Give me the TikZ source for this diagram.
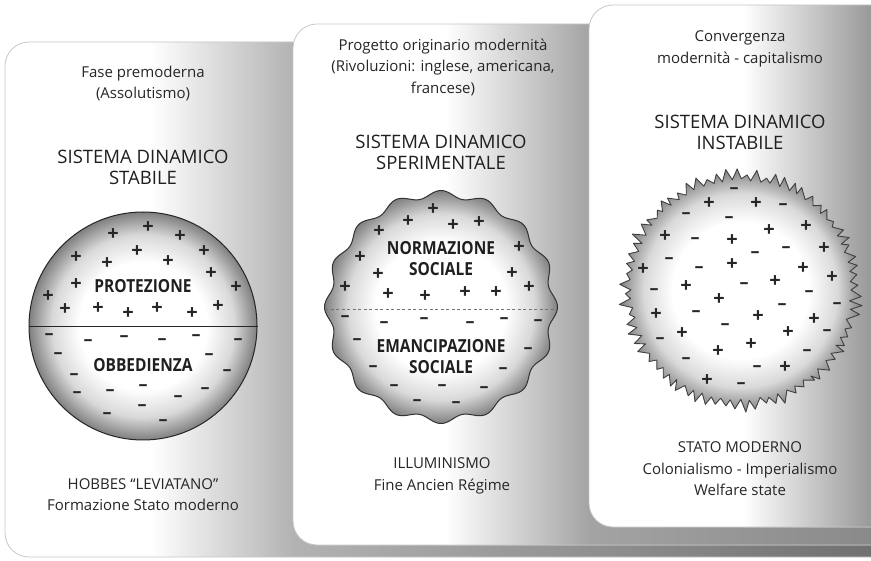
\documentclass[tikz,border=0pt]{standalone}
\usepackage{fontspec}
\setmainfont{Open Sans}
\newfontfamily\lblfont[FakeStretch=0.86]{Open Sans}
\pgfdeclareradialshading{sphere}{\pgfpoint{0bp}{0bp}}{color(0bp)=(white); color(14bp)=(white); color(20bp)=(black!15); color(25bp)=(black!50); color(50bp)=(black!50)}
\begin{document}
\begin{tikzpicture}[x=1pt,y=-1pt,
  paneledge/.style={draw=black!22, line width=0.8pt},
  txt/.style={font=\fontsize{15}{21.5}\selectfont, align=center, text=black!85},
  ttl/.style={font=\fontsize{18.5}{21}\selectfont, align=center, text=black!88},
  lbl/.style={font=\lblfont\fontsize{18}{21}\selectfont\bfseries, align=center, text=black!88},
  sgnp/.style={font=\fontsize{20}{20}\selectfont\bfseries, inner sep=0pt, text=black!85},
  sgnm/.style={font=\fontsize{18}{18}\selectfont\bfseries, inner sep=0pt, text=black!85}]
\useasboundingbox (0,0) rectangle (871,561);
\fill[white] (0,0) rectangle (871,561);

% ---------- left panel ----------
\begin{scope}
  \clip[rounded corners=24pt] (871,42) -- (5,42) -- (5,557) -- (871,557);
  \fill[white] (0,0) rectangle (871,561);
  \shade[left color=white, right color=black!30] (150,0) rectangle (293,561);
  \shade[left color=black!30, right color=black!56] (292.5,0) rectangle (871,561);
\end{scope}
\draw[paneledge, rounded corners=24pt] (871,42) -- (5,42) -- (5,557) -- (871,557);

% ---------- middle panel ----------
\begin{scope}
  \clip[rounded corners=24pt] (871,24) -- (293,24) -- (293,545) -- (871,545);
  \fill[white] (0,0) rectangle (871,561);
  \shade[left color=white, right color=black!36] (445,0) rectangle (590,561);
  \shade[left color=black!36, right color=black!46] (589.5,0) rectangle (871,561);
\end{scope}
\draw[paneledge, rounded corners=24pt] (871,24) -- (293,24) -- (293,545) -- (871,545);

% ---------- right panel ----------
\begin{scope}
  \clip[rounded corners=24pt] (871,5) -- (589,5) -- (589,527) -- (871,527);
  \fill[white] (0,0) rectangle (871,561);
  \shade[left color=white, right color=black!40] (743,0) rectangle (871,561);
\end{scope}
\draw[paneledge, rounded corners=24pt] (871,5) -- (589,5) -- (589,527) -- (871,527);

% ---------- left panel content ----------
\node[txt] (t1) at (143,83.5) {Fase premoderna\\(Assolutismo)};
\node[ttl] (h1) at (143,167.5) {SISTEMA DINAMICO\\STABILE};
\node[circle, minimum size=228pt, inner sep=0pt, draw=black!85, line width=1pt, shade, shading=sphere] (c1) at (143,326) {};
\draw[black!85, line width=0.9pt] (c1.west) -- (c1.east);
\foreach \p [count=\i] in {(113,235),(148,228),(180,237),(137,252),(204,252),(76,258),(107,264),(168,262),(211,274),(76,285),(236,288),(48,297),(65,310),(98,309),(128,314),(157,309),(192,314),(218,307)}
  \node[sgnp] (lp\i) at \p {+};
\foreach \p [count=\i] in {(49,337),(88,343),(124,339),(162,342),(196,338),(238,342),(58,356),(209,357),(74,377),(227,373),(77,395),(110,393),(143,388),(178,399),(205,391),(107,416),(142,408),(163,423)}
  \node[sgnm] (lm\i) at \p {–};
\node[lbl] (l1a) at (143,286) {PROTEZIONE};
\node[lbl] (l1b) at (143,365) {OBBEDIENZA};
\node[txt] (b1) at (143,494.5) {HOBBES “LEVIATANO”\\Formazione Stato moderno};

% ---------- middle panel content ----------
\node[txt] (t2) at (443,67) {Progetto originario modernità\\(Rivoluzioni: inglese, americana,\\francese)};
\node[ttl] (h2) at (441,152.5) {SISTEMA DINAMICO\\SPERIMENTALE};
\shadedraw[shading=sphere, draw=black!80, line width=1pt]
  plot[domain=0:360, samples=289] ({441+(113+3.5*cos(16*\x))*cos(\x)}, {307+(113+3.5*cos(16*\x))*sin(\x)}) -- cycle;
\coordinate (ml) at (325,309);
\coordinate (mr) at (557,309);
\draw[black!55, dash pattern=on 3pt off 2.5pt, line width=0.6pt] (ml) -- (mr);
\foreach \p [count=\i] in {(433,210),(408,222),(453,226),(479,223),(379,232),(360,258),(519,248),(378,275),(512,274),(345,288),(388,295),(425,297),(465,293),(496,293),(529,288)}
  \node[sgnp] (mp\i) at \p {+};
\foreach \p [count=\i] in {(345,319),(384,325),(424,321),(470,325),(504,321),(538,323),(357,342),(528,351),(373,369),(503,371),(394,388),(442,388),(484,390),(417,403),(456,405)}
  \node[sgnm] (mm\i) at \p {–};
\node[lbl] (l2a) at (441,259) {NORMAZIONE\\SOCIALE};
\node[lbl] (l2b) at (441,357) {EMANCIPAZIONE\\SOCIALE};
\node[txt] (b2) at (442,476) {ILLUMINISMO\\Fine Ancien Régime};

% ---------- right panel content ----------
\node[txt] (t3) at (740,49) {Convergenza\\modernità - capitalismo};
\node[ttl] (h3) at (740,132) {SISTEMA DINAMICO\\INSTABILE};
\pgfmathsetseed{23}
\shadedraw[shading=sphere, draw=black!75, line width=0.9pt, line join=round]
  ([shift={(741,290)}]0:110)
  \foreach \i in {1,...,143} { -- ([shift={(741,290)}]{\i*2.5+0.8*rnd}:{109+2.5*rnd+mod(\i,2)*(2+10*rnd)}) } -- cycle;
\foreach \p [count=\i] in {(709,204),(756,204),(806,227),(769,231),(665,237),(732,241),(824,249),(732,265),(643,270),(803,269),(832,278),(775,282),(686,287),(719,300),(656,315),(758,317),(814,320),(682,334),(788,333),(751,345),(718,352),(785,368),(707,381)}
  \node[sgnp] (rp\i) at \p {+};
\foreach \p [count=\i] in {(734,191),(783,207),(686,216),(729,220),(695,241),(786,250),(755,255),(669,261),(699,270),(744,286),(654,292),(809,294),(782,307),(837,306),(696,314),(725,327),(827,333),(660,341),(807,353),(686,361),(757,369),(741,386)}
  \node[sgnm] (rm\i) at \p {–};
\node[txt] (b3) at (740,469) {STATO MODERNO\\Colonialismo - Imperialismo\\Welfare state};
\end{tikzpicture}
\end{document}
